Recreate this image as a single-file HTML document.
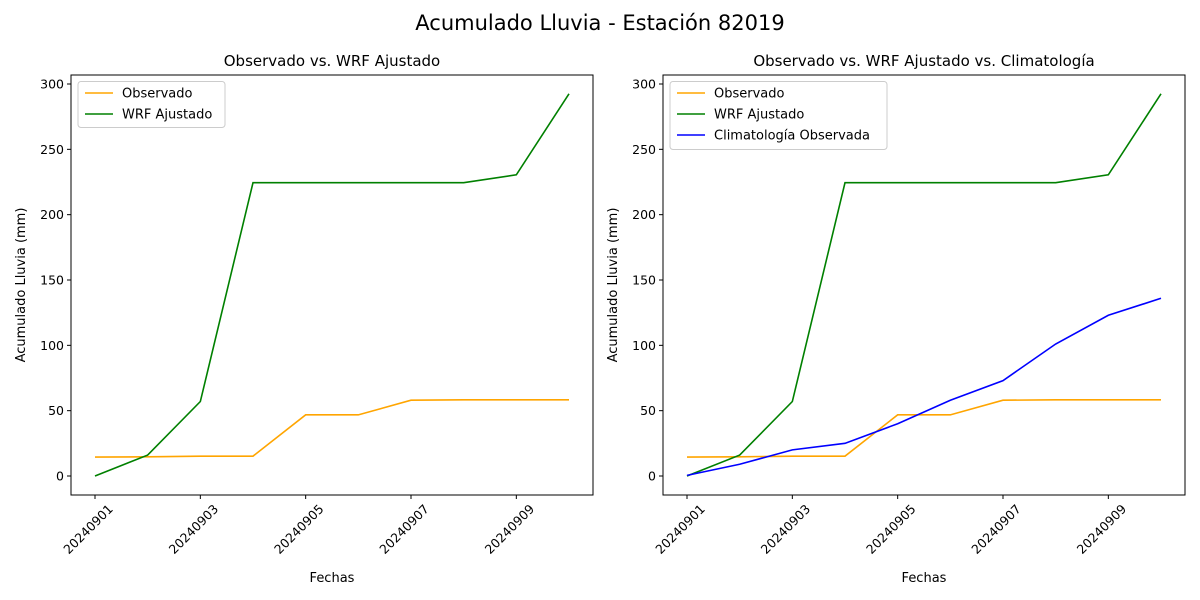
<!DOCTYPE html>
<html><head><meta charset="utf-8"><style>
html,body{margin:0;padding:0;background:#fff;}
svg{display:block;font-family:"DejaVu Sans","Liberation Sans",sans-serif;}
</style></head><body>
<svg id="s" width="1200" height="600" xmlns="http://www.w3.org/2000/svg"></svg>
<script>
const s=document.getElementById('s');
let h='<rect width="1200" height="600" fill="#fff"/>';
h+='<text x="600" y="30" font-size="21" text-anchor="middle">Acumulado Lluvia - Estación 82019</text>';
const obs=[14.5,14.7,15.2,15.2,46.8,46.8,58,58.3,58.3,58.3];
const wrf=[0,16,57,224.5,224.5,224.5,224.5,224.5,230.5,292.5];
const cli=[0.5,9,20,25,40,58,73,101,123,136];
const Y=v=>476-v*392/300;
function panel(x0,title,withCli){
  const X=i=>x0+24+i*(474/9);
  h+=`<text x="${x0+261}" y="66" font-size="15" text-anchor="middle">${title}</text>`;
  [0,50,100,150,200,250,300].forEach(v=>{const y=Y(v);
    h+=`<line x1="${x0-4}" x2="${x0}" y1="${y}" y2="${y}" stroke="#000"/>`;
    h+=`<text x="${x0-7}" y="${y+4.5}" font-size="12.5" text-anchor="end">${v}</text>`;});
  ['20240901','20240903','20240905','20240907','20240909'].forEach((t,k)=>{const x=X(2*k);
    h+=`<line x1="${x}" x2="${x}" y1="495" y2="499" stroke="#000"/>`;
    h+=`<text transform="translate(${x+12},503) rotate(-45)" font-size="12.5" text-anchor="end" dominant-baseline="hanging">${t}</text>`;});
  h+=`<text x="${x0+261}" y="582" font-size="13" text-anchor="middle">Fechas</text>`;
  h+=`<text transform="translate(${x0-46},285) rotate(-90)" font-size="13" text-anchor="middle">Acumulado Lluvia (mm)</text>`;
  const line=(d,c)=>{h+=`<polyline fill="none" stroke="${c}" stroke-width="1.6" points="${d.map((v,i)=>X(i)+','+Y(v)).join(' ')}"/>`;};
  line(obs,'orange');line(wrf,'green');if(withCli)line(cli,'blue');
  h+=`<rect x="${x0}" y="75" width="522" height="420" fill="none" stroke="#000" stroke-width="1"/>`;
  const lw=withCli?217:147, lh=withCli?68:46;
  h+=`<rect x="${x0+7}" y="81.5" width="${lw}" height="${lh}" rx="3" fill="#fff" fill-opacity="0.8" stroke="#ccc"/>`;
  const items=[['Observado','orange'],['WRF Ajustado','green']];if(withCli)items.push(['Climatología Observada','blue']);
  items.forEach((it,k)=>{const y=93+k*21;
    h+=`<line x1="${x0+14}" x2="${x0+42}" y1="${y}" y2="${y}" stroke="${it[1]}" stroke-width="1.6"/>`;
    h+=`<text x="${x0+51}" y="${y+4.5}" font-size="13">${it[0]}</text>`;});
}
panel(71,'Observado vs. WRF Ajustado',false);
panel(663,'Observado vs. WRF Ajustado vs. Climatología',true);
s.innerHTML=h;
</script>
</body></html>
